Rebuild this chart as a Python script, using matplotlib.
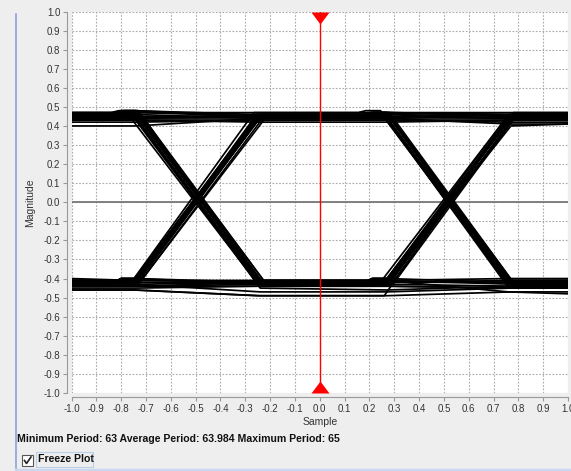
import numpy as np
import matplotlib.pyplot as plt
from matplotlib.patches import Rectangle
from matplotlib.lines import Line2D

plt.rcParams['font.family'] = ['Liberation Sans', 'DejaVu Sans']

# knots of every trace: plateau ends / edge ends around the crossings at -0.49 and 0.52
knots = [-1.0, -0.74, -0.24, 0.27, 0.77, 1.0]

# magnitude of each trace at the knots
levels = [
    [0.46, 0.46, 0.45, 0.45, 0.46, 0.46],
    [0.44, 0.44, 0.44, 0.44, 0.44, 0.44],
    [0.40, 0.40, 0.44, 0.44, 0.41, 0.41],
    [0.47, 0.47, 0.46, 0.46, 0.47, 0.47],
    [0.43, 0.43, 0.42, 0.42, 0.43, 0.43],
    [-0.42, -0.42, -0.42, -0.42, -0.42, -0.42],
    [-0.44, -0.44, -0.43, -0.43, -0.44, -0.44],
    [-0.46, -0.46, -0.49, -0.49, -0.47, -0.47],
    [-0.40, -0.41, -0.41, -0.41, -0.40, -0.40],
    [-0.43, -0.43, -0.47, -0.47, -0.45, -0.45],
    [0.46, 0.46, -0.42, -0.42, 0.45, 0.45],
    [0.45, 0.45, -0.43, -0.43, 0.46, 0.46],
    [0.44, 0.44, -0.41, -0.41, 0.44, 0.44],
    [0.47, 0.47, -0.44, -0.44, 0.47, 0.47],
    [-0.42, -0.42, 0.45, 0.45, -0.42, -0.42],
    [-0.43, -0.43, 0.46, 0.46, -0.43, -0.43],
    [-0.41, -0.41, 0.44, 0.44, -0.44, -0.44],
    [-0.44, -0.44, 0.47, 0.47, -0.41, -0.41],
    [0.45, 0.45, -0.42, -0.43, -0.43, -0.43],
    [0.44, 0.44, -0.45, -0.46, -0.44, -0.44],
    [0.46, 0.46, -0.41, -0.41, -0.47, -0.48],
    [-0.42, -0.42, 0.45, 0.45, 0.45, 0.45],
    [-0.43, -0.43, 0.44, 0.44, 0.46, 0.46],
    [-0.41, -0.41, 0.46, 0.46, 0.44, 0.44],
    [0.45, 0.45, 0.45, 0.45, -0.42, -0.42],
    [0.46, 0.46, 0.44, 0.44, -0.43, -0.43],
    [0.43, 0.44, 0.46, 0.46, -0.41, -0.41],
    [-0.42, -0.42, -0.43, -0.43, 0.45, 0.45],
    [-0.44, -0.44, -0.42, -0.42, 0.44, 0.44],
    [-0.42, -0.42, -0.42, -0.42, 0.40, 0.41],
    [-0.46, -0.46, -0.49, -0.49, 0.44, 0.44],
    [0.45, 0.45, -0.42, -0.42, 0.46, 0.46],
    [-0.43, -0.43, 0.45, 0.45, -0.42, -0.42],
    [0.44, 0.44, 0.45, 0.45, 0.44, 0.44],
    [-0.41, -0.41, -0.42, -0.42, -0.41, -0.41],
    [0.46, 0.46, -0.42, -0.42, 0.45, 0.45],
    [0.45, 0.45, -0.43, -0.43, 0.46, 0.46],
    [0.45, 0.45, -0.42, -0.42, 0.45, 0.45],
    [0.44, 0.44, -0.43, -0.43, 0.44, 0.44],
    [0.46, 0.46, -0.44, -0.44, 0.45, 0.45],
    [-0.42, -0.42, 0.45, 0.45, -0.42, -0.42],
    [-0.43, -0.43, 0.45, 0.45, -0.43, -0.43],
    [-0.42, -0.42, 0.46, 0.46, -0.42, -0.42],
    [-0.44, -0.44, 0.44, 0.44, -0.43, -0.43],
    [-0.41, -0.41, 0.45, 0.45, -0.42, -0.42],
    [0.45, 0.45, -0.42, -0.42, -0.42, -0.42],
    [-0.42, -0.42, 0.45, 0.45, 0.45, 0.45],
    [0.45, 0.45, 0.45, 0.45, -0.43, -0.43],
    [-0.43, -0.43, -0.42, -0.42, 0.46, 0.46],
    [0.44, 0.44, -0.42, -0.42, 0.45, 0.45],
    [-0.42, -0.42, 0.44, 0.44, -0.42, -0.42],
    [0.46, 0.46, -0.41, -0.41, 0.44, 0.44],
    [-0.43, -0.43, 0.46, 0.46, -0.44, -0.44],
    [0.47, 0.47, 0.47, 0.47, 0.46, 0.46],
    [0.42, 0.42, 0.43, 0.43, 0.42, 0.42],
    [-0.44, -0.44, -0.44, -0.44, -0.45, -0.45],
    [0.43, 0.43, 0.43, 0.43, 0.43, 0.43],
    [-0.45, -0.45, -0.44, -0.44, -0.45, -0.45],
]
# timing offset of each trace
shifts = [0.0, 0.01, 0.0, -0.01, 0.0, 0.0, 0.01, 0.0, -0.01, 0.0,
          0.0, 0.025, -0.02, 0.01, 0.0, -0.01, 0.02, -0.025, 0.01, 0.0,
          -0.01, 0.0, 0.01, -0.01, 0.01, 0.0, -0.02, 0.0, 0.01, 0.0,
          -0.01, 0.005, -0.005, 0.0, 0.0, 0.003, -0.003, 0.007, -0.007, 0.012,
          0.004, -0.004, 0.008, -0.008, -0.012, 0.006, -0.006, 0.009, -0.009, 0.002,
          -0.002, 0.014, -0.014, 0.0, 0.0, 0.0, 0.0, 0.0]
# small step just before each edge
bumps = [0.02, 0.0, 0.0, 0.01, 0.0, 0.02, 0.0, 0.0, 0.0, 0.0,
         0.02, 0.0, 0.0, 0.01, 0.02, 0.0, 0.0, 0.01, 0.02, 0.0,
         0.0, 0.02, 0.0, 0.0, 0.02, 0.0, 0.0, 0.02, 0.0, 0.0,
         0.0, 0.0, 0.02, 0.0, 0.0, 0.01, 0.0, 0.02, 0.0, 0.0,
         0.01, 0.0, 0.0, 0.02, 0.0, 0.0, 0.01, 0.0, 0.0, 0.02,
         0.0, 0.0, 0.0, 0.0, 0.0, 0.0, 0.0, 0.0]

x_ticks = np.round(np.arange(-1.0, 1.01, 0.1), 1) + 0.0
y_ticks = np.round(np.arange(-1.0, 1.01, 0.1), 1) + 0.0

W, H = 571, 471
fig = plt.figure(figsize=(W / 100, H / 100), dpi=100)
fig.patch.set_facecolor('#eeeeee')


def fx(px):
    return px / W


def fy(py):
    return 1 - py / H


ax = fig.add_axes([fx(71.5), fy(393), fx(568) - fx(71.5), fy(11.5) - fy(393)])
ax.set_facecolor('white')
ax.set_xlim(-1, 1)
ax.set_ylim(-1, 1)

ax.set_xticks(x_ticks)
ax.set_yticks(y_ticks)
ax.set_xticklabels(['%.1f' % abs(v) if abs(v) < 0.05 else '%.1f' % v for v in x_ticks])
ax.set_yticklabels(['%.1f' % abs(v) if abs(v) < 0.05 else '%.1f' % v for v in y_ticks])
ax.tick_params(labelsize=7, colors='#333333', length=3, width=0.8, direction='out', pad=2)
ax.tick_params(color='#999999')
ax.grid(True, color='#aaaaaa', linestyle=(0, (1.5, 1.5)), linewidth=0.8)
ax.set_axisbelow(True)
for s in ['top', 'right']:
    ax.spines[s].set_visible(False)
for s in ['left', 'bottom']:
    ax.spines[s].set_color('#999999')
    ax.spines[s].set_position(('outward', 3))

ax.set_xlabel('Sample', fontsize=7.5, color='#333333', labelpad=2)
ax.set_ylabel('Magnitude', fontsize=7.5, color='#333333', labelpad=6)

ax.axhline(0, color='#777777', lw=1.3, zorder=2)

# eye traces
for lv, sh, b in zip(levels, shifts, bumps):
    xs = [knots[0]]
    ys = [lv[0]]
    for i in range(1, 5):
        k = knots[i] + sh
        y = lv[i]
        if b and i in (1, 3):
            xs += [k - 0.09, k - 0.06]
            ys += [np.interp(k - 0.09, [knots[i - 1], k], [lv[i - 1], y]), y + b]
            y = y + b
        xs.append(k)
        ys.append(y)
    xs.append(knots[5])
    ys.append(lv[5])
    ax.plot(xs, ys, color='black', lw=1.25, zorder=3)

# red marker line
ax.plot([0, 0], [-1, 1], color='red', lw=1.0, zorder=4)
top_tri = [(-9, 0), (9, 0), (0, -12)]
bot_tri = [(-9, 0), (9, 0), (0, 12)]
ax.plot([0], [1], marker=top_tri, markersize=17.3, color='red', mec='none', clip_on=False, zorder=5)
ax.plot([0], [-1], marker=bot_tri, markersize=17.3, color='red', mec='none', clip_on=False, zorder=5)

# window decoration
fig.add_artist(Line2D([fx(16), fx(16)], [fy(14), fy(468)], color='#8aa6d6', lw=1.2))
fig.add_artist(Line2D([fx(16), fx(571)], [fy(469.5), fy(469.5)], color='#c9d8ef', lw=2.5))

fig.text(fx(17), fy(439), 'Minimum Period: 63 Average Period: 63.984 Maximum Period: 65',
         fontsize=7.6, fontweight='bold', color='#111111', va='center', ha='left')

fig.add_artist(Rectangle((fx(22), fy(466)), fx(11), fy(455) - fy(466), facecolor='white',
                         edgecolor='#555555', lw=0.8))
fig.add_artist(Line2D([fx(24.5), fx(26.5), fx(31)], [fy(460.5), fy(463.5), fy(457)],
                      color='#222222', lw=1.2))
fig.add_artist(Rectangle((fx(36), fy(467)), fx(57), fy(452) - fy(467), facecolor='none',
                         edgecolor='#b8cfe8', lw=0.8))
fig.text(fx(37.5), fy(459.5), 'Freeze Plot', fontsize=7.6, fontweight='bold', color='#111111',
         va='center', ha='left')

fig.savefig('out.png', dpi=100, facecolor=fig.get_facecolor())
